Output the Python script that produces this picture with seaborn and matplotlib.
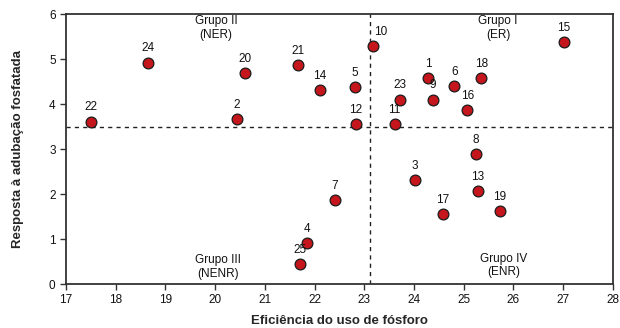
import matplotlib
matplotlib.use("Agg")
import matplotlib.pyplot as plt
import seaborn as sns
import pandas as pd

labels = ["1","2","3","4","5","6","7","8","9","10","11","12","13","14","15","16","17","18","19","20","21","22","23","24","25"]
eficiencia = [24.28,20.44,24.02,21.84,22.81,24.81,22.41,25.25,24.38,23.18,23.61,22.83,25.28,22.11,27.02,25.07,24.58,25.35,25.72,20.61,21.67,17.50,23.71,18.64,21.71]
resposta = [4.58,3.67,2.31,0.91,4.38,4.40,1.87,2.88,4.10,5.29,3.55,3.56,2.07,4.31,5.38,3.87,1.56,4.58,1.62,4.68,4.86,3.61,4.10,4.92,0.44]
mean_x = 23.12
mean_y = 3.50
grupos = ["Grupo I\n(ER)", "Grupo II\n(NER)", "Grupo III\n(NENR)", "Grupo IV\n(ENR)"]
grupo_x = [25.69, 20.02, 20.06, 25.81]
grupo_y = [5.69, 5.69, 0.38, 0.41]

df = pd.DataFrame({"x": eficiencia, "y": resposta, "lab": labels})

sns.set_style("ticks")
plt.rcParams['font.family'] = ['Liberation Sans', 'DejaVu Sans']

fig = plt.figure(figsize=(6.2, 3.28), dpi=100)
ax = fig.add_axes([0.1065, 0.134, 0.882, 0.823])

ax.axvline(mean_x, color="#222222", ls=(0, (3, 3)), lw=1.0, zorder=1)
ax.axhline(mean_y, color="#222222", ls=(0, (3, 3)), lw=1.0, zorder=1)

sns.scatterplot(data=df, x="x", y="y", ax=ax, s=60, color="#C4161C",
                edgecolor="#1a1a1a", linewidth=0.9, zorder=3, legend=False)

for xi, yi, t in zip(df["x"], df["y"], df["lab"]):
    dx = 5 if t == "10" else 0
    ax.annotate(t, (xi, yi), xytext=(dx, 6), textcoords="offset points",
                ha="center", va="bottom", fontsize=8.5, color="#111111")

for g, gx, gy in zip(grupos, grupo_x, grupo_y):
    ax.text(gx, gy, g, ha="center", va="center", fontsize=8.5, color="#111111",
            linespacing=1.15)

ax.set_xlim(17, 28)
ax.set_ylim(0, 6)
ax.set_xticks(range(17, 29))
ax.set_yticks(range(0, 7))
ax.tick_params(axis="both", labelsize=8.5, direction="out", length=4, width=1.0,
               colors="#333333", labelcolor="#111111")
for s in ax.spines.values():
    s.set_visible(True)
    s.set_color("#333333")
    s.set_linewidth(1.3)

ax.set_xlabel("Eficiência do uso de fósforo", fontsize=9.5, fontweight="bold", labelpad=6)
ax.set_ylabel("Resposta à adubação fosfatada", fontsize=9.5, fontweight="bold", labelpad=18)

fig.savefig("out.png", dpi=100)
